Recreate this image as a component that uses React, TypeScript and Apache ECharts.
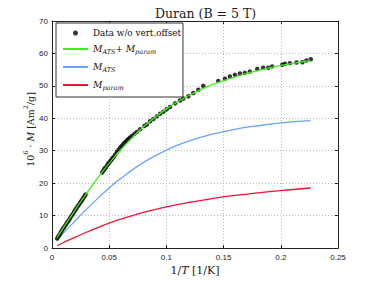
import React, { useEffect, useRef } from 'react';
import * as echarts from 'echarts';

// Fit curves (1/T in 1/K, 10^6·M in Am²/g)
const fitX = [0.0045, 0.01, 0.02, 0.03, 0.04, 0.05, 0.06, 0.08, 0.1, 0.12, 0.14, 0.16, 0.18, 0.2, 0.226];
const totalY = [3.2, 6.3, 11.6, 16.75, 21.6, 26.15, 30.3, 37.4, 42.9, 47.1, 50.35, 52.8, 54.7, 56.3, 57.8];
const atsY = [2.5, 4.6, 8.3, 11.9, 15.3, 18.5, 21.4, 26.4, 30.2, 33.0, 35.1, 36.6, 37.7, 38.6, 39.3];
const paramY = [0.7, 1.7, 3.3, 4.85, 6.3, 7.65, 8.9, 11.0, 12.7, 14.1, 15.25, 16.2, 17.0, 17.7, 18.5];

// Measured data without vertical offset
const dataX = [
  0.0045, 0.0055, 0.0065, 0.0075, 0.0085, 0.0095, 0.0105, 0.0115, 0.0125, 0.0135, 0.0145, 0.0155, 0.0165,
  0.0175, 0.0185, 0.0195, 0.0205, 0.0215, 0.0225, 0.0235, 0.0245, 0.0255, 0.0265, 0.0275, 0.0285, 0.0293,
  0.0439, 0.045, 0.046, 0.047, 0.048, 0.049, 0.05, 0.051, 0.052, 0.053, 0.054, 0.0552, 0.0567, 0.0582,
  0.0596, 0.061, 0.0625, 0.064, 0.0654, 0.0668, 0.0683, 0.07, 0.0721, 0.0741,
  0.077, 0.0808, 0.0829, 0.0857, 0.0886, 0.0916, 0.0945, 0.0974, 0.1003, 0.1032, 0.1076, 0.1119, 0.1148,
  0.1192, 0.1235, 0.1279, 0.1322, 0.1453, 0.1512, 0.1555, 0.1599, 0.1643, 0.1686, 0.173, 0.1794, 0.1846,
  0.189, 0.1924, 0.2012, 0.2035, 0.2079, 0.2137, 0.2189, 0.2224, 0.2262,
];
const dataY = [
  2.9, 3.6, 4.0, 4.7, 5.3, 5.9, 6.3, 6.9, 7.4, 8.0, 8.4, 9.0, 9.6,
  10.1, 10.6, 11.3, 11.8, 12.3, 12.9, 13.3, 13.9, 14.4, 14.9, 15.5, 16.0, 16.5,
  23.3, 23.9, 24.5, 24.8, 25.4, 25.9, 26.3, 26.8, 27.2, 27.7, 28.1, 28.8, 29.6, 30.2,
  31.0, 31.5, 32.2, 32.6, 33.2, 33.6, 34.1, 34.6, 35.2, 35.8,
  36.6, 37.6, 38.1, 39.1, 39.8, 40.6, 41.4, 42.0, 42.8, 43.5, 44.6, 45.5, 46.1,
  46.8, 47.8, 48.8, 50.0, 51.5, 52.2, 52.9, 53.4, 53.8, 54.0, 54.4, 55.2, 55.6,
  55.6, 56.0, 56.5, 56.8, 57.0, 57.2, 57.3, 57.8, 58.2,
];

const xTicks = { min: 0, max: 0.25, interval: 0.05 };
const yTicks = { min: 0, max: 70, interval: 10 };

const seriesNames = ['Data w/o vert.offset', 'M_ATS+ M_param', 'M_ATS', 'M_param'];
const colors = { data: '#000000', total: '#3ded1c', ats: '#6aa3ff', param: '#ee1535' };

const SERIF = 'DejaVu Serif';
const SANS = 'Liberation Sans';

export default function App() {
  const ref = useRef<HTMLDivElement>(null);
  useEffect(() => {
    document.body.style.margin = '0';
    const chart = echarts.init(ref.current!, null, { renderer: 'svg' });
    const pair = (xs: number[], ys: number[]) => xs.map((x, i) => [x, ys[i]]);
    const axisCommon = {
      axisLine: { show: true, onZero: false, lineStyle: { color: '#222', width: 1 } },
      axisTick: { show: true, inside: true, length: 3, lineStyle: { color: '#222' } },
    };
    const legendRich = {
      t: { fontFamily: SERIF, fontSize: 8.8, color: '#111', verticalAlign: 'top', lineHeight: 10 },
      i: { fontFamily: SERIF, fontSize: 9.2, fontStyle: 'italic', color: '#111', verticalAlign: 'top', lineHeight: 10 },
      s: { fontFamily: SERIF, fontSize: 6.5, fontStyle: 'italic', color: '#111', verticalAlign: 'top', lineHeight: 6, padding: [4, 0, 0, 0] },
    };
    const legendFmt = (name: string) => {
      if (name === seriesNames[0]) return '{t|' + name + '}';
      if (name === seriesNames[1]) return '{i|M}{s|ATS}{t|+ }{i|M}{s|param}';
      if (name === seriesNames[2]) return '{i|M}{s|ATS}';
      return '{i|M}{s|param}';
    };
    const noSymbol = { color: 'rgba(0,0,0,0)', borderWidth: 0 };
    chart.setOption({
      animation: false,
      backgroundColor: '#fff',
      title: {
        text: 'Duran (B = 5 T)',
        left: 150,
        top: 2,
        textStyle: { fontFamily: SERIF, fontSize: 12.5, fontWeight: 'normal', color: '#222' },
      },
      grid: { left: 52, right: 36, top: 21, bottom: 32 },
      legend: {
        data: seriesNames,
        orient: 'vertical',
        left: 56,
        top: 23,
        itemWidth: 25,
        itemHeight: 5,
        itemGap: 7,
        padding: [5, 2, 6, 6],
        borderColor: '#333',
        borderWidth: 1,
        backgroundColor: '#fff',
        formatter: legendFmt,
        textStyle: { rich: legendRich },
        z: 10,
      },
      xAxis: [
        {
          type: 'value', position: 'bottom', ...xTicks, ...axisCommon,
          axisLabel: { fontFamily: SANS, fontSize: 8, color: '#222', margin: 5 },
          splitLine: { show: true, lineStyle: { color: '#bbb', type: [1, 2] } },
          name: '{n|1/}{i|T}{n| [1/K]}',
          nameLocation: 'middle',
          nameGap: 17,
          nameMoveOverlap: false,
          nameTextStyle: {
            rich: {
              n: { fontFamily: SERIF, fontSize: 11, color: '#222' },
              i: { fontFamily: SERIF, fontSize: 11, fontStyle: 'italic', color: '#222' },
            },
          },
        },
        {
          type: 'value', position: 'top', ...xTicks, ...axisCommon,
          axisLabel: { show: false }, splitLine: { show: false },
        },
      ],
      yAxis: [
        {
          type: 'value', position: 'left', ...yTicks, ...axisCommon,
          axisLabel: { fontFamily: SANS, fontSize: 8, color: '#222', margin: 4 },
          splitLine: { show: true, lineStyle: { color: '#bbb', type: [1, 2] } },
          name: '{n|10}{p|6}{n| · }{i|M}{n| [Am}{p|2}{n|/g]}',
          nameLocation: 'middle',
          nameGap: 17,
          nameRotate: 90,
          nameMoveOverlap: false,
          nameTextStyle: {
            padding: [0, 0, 0, 10],
            rich: {
              n: { fontFamily: SERIF, fontSize: 9.5, color: '#222', verticalAlign: 'top', padding: [3, 0, 0, 0] },
              i: { fontFamily: SERIF, fontSize: 9.5, fontStyle: 'italic', color: '#222', verticalAlign: 'top', padding: [3, 0, 0, 0] },
              p: { fontFamily: SERIF, fontSize: 6.5, color: '#222', verticalAlign: 'top' },
            },
          },
        },
        {
          type: 'value', position: 'right', ...yTicks, ...axisCommon,
          axisLabel: { show: false }, splitLine: { show: false },
        },
      ],
      series: [
        {
          name: seriesNames[0],
          type: 'scatter',
          data: pair(dataX, dataY),
          symbol: 'circle',
          symbolSize: 4.5,
          itemStyle: { color: colors.data },
          z: 3,
        },
        {
          name: seriesNames[1],
          type: 'line',
          data: pair(fitX, totalY),
          smooth: 0.4,
          symbol: 'none',
          lineStyle: { color: colors.total, width: 1.3 },
          itemStyle: noSymbol,
          z: 4,
        },
        {
          name: seriesNames[2],
          type: 'line',
          data: pair(fitX, atsY),
          smooth: 0.4,
          symbol: 'none',
          lineStyle: { color: colors.ats, width: 1.3 },
          itemStyle: noSymbol,
          z: 2,
        },
        {
          name: seriesNames[3],
          type: 'line',
          data: pair(fitX, paramY),
          smooth: 0.4,
          symbol: 'none',
          lineStyle: { color: colors.param, width: 1.3 },
          itemStyle: noSymbol,
          z: 2,
        },
      ],
    });
    return () => chart.dispose();
  }, []);
  return <div ref={ref} style={{ position: 'fixed', left: 0, top: 0, width: 374, height: 281 }} />;
}
